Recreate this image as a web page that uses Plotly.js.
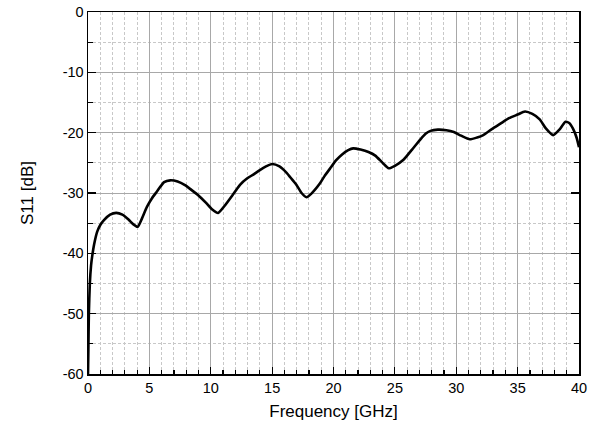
<!DOCTYPE html>
<html>
<head>
<meta charset="utf-8">
<script src="https://cdn.plot.ly/plotly-3.0.1.min.js"></script>
<style>
html,body{margin:0;padding:0;background:#fff;}
#chart{width:592px;height:430px;}
</style>
</head>
<body>
<div id="chart"></div>
<script>
const freqGHz = [0, 0.03, 0.07, 0.15, 0.25, 0.34, 0.5, 0.75, 1.0, 1.3, 1.8, 2.3, 2.8, 3.3, 3.7, 4.05, 4.4, 4.8, 5.2, 5.6, 6.2, 6.7, 7.3, 7.9, 8.5, 9.0, 9.6, 10.1, 10.6, 11.1, 11.9, 12.4, 12.95, 13.5, 14.0, 14.5, 15.0, 15.6, 16.2, 16.6, 17.0, 17.4, 17.8, 18.2, 18.9, 19.3, 19.7, 20.2, 20.7, 21.2, 21.6, 22.2, 22.85, 23.4, 24.0, 24.5, 25.0, 25.7, 26.4, 27.05, 27.5, 27.9, 28.5, 29.2, 29.8, 30.4, 31.1, 31.7, 32.2, 32.9, 33.6, 34.3, 35.0, 35.6, 36.2, 36.8, 37.3, 37.9, 38.4, 38.9, 39.2, 39.5, 39.8, 40.0];
const s11dB = [-60, -56, -50, -45, -42, -40.5, -38.5, -36.4, -35.3, -34.5, -33.6, -33.3, -33.6, -34.4, -35.2, -35.6, -34.2, -32.3, -30.9, -29.8, -28.2, -27.9, -28.1, -28.7, -29.6, -30.4, -31.6, -32.7, -33.3, -32.2, -30.0, -28.6, -27.6, -26.9, -26.2, -25.6, -25.2, -25.6, -26.7, -27.7, -28.7, -30.0, -30.7, -30.1, -28.4, -27.1, -26.0, -24.6, -23.6, -22.9, -22.6, -22.8, -23.2, -23.8, -25.0, -25.9, -25.5, -24.5, -22.8, -21.2, -20.2, -19.7, -19.5, -19.6, -19.9, -20.5, -21.1, -20.8, -20.4, -19.4, -18.5, -17.6, -17.0, -16.5, -16.9, -17.8, -19.3, -20.4, -19.5, -18.2, -18.4, -19.3, -20.8, -22.4];
const xTicks = [0, 5, 10, 15, 20, 25, 30, 35, 40];
const yTicks = [0, -10, -20, -30, -40, -50, -60];

const fam = 'Arial, "Liberation Sans", sans-serif';
const tickFont = {family: fam, size: 14.5, color: '#000'};
const titleFont = {family: fam, size: 17, color: '#000'};

Plotly.newPlot('chart', [{
  x: freqGHz, y: s11dB, type: 'scatter', mode: 'lines',
  line: {color: '#000', width: 2.6, shape: 'spline', smoothing: 0.6},
  hoverinfo: 'skip', showlegend: false
}], {
  width: 592, height: 430,
  margin: {l: 88, r: 13, t: 12, b: 56},
  paper_bgcolor: '#fff', plot_bgcolor: '#fff',
  font: tickFont,
  xaxis: {
    range: [0, 40], tickvals: xTicks, ticktext: xTicks.map(String),
    showgrid: true, gridcolor: '#a8a8a8', gridwidth: 1,
    zeroline: false, showline: true, linecolor: '#000', linewidth: 1.5, mirror: true,
    ticks: 'inside', ticklen: 7, tickwidth: 1.2, tickcolor: '#000',
    minor: {dtick: 1, ticks: 'inside', ticklen: 4, tickwidth: 1.2, tickcolor: '#000', showgrid: true, gridcolor: '#c8c8c8', griddash: '3px,2px', gridwidth: 1},
    tickfont: tickFont,
    title: {text: 'Frequency [GHz]', font: titleFont, standoff: 10}
  },
  yaxis: {
    range: [-60, 0], tickvals: yTicks, ticktext: yTicks.map(String),
    showgrid: true, gridcolor: '#a8a8a8', gridwidth: 1,
    zeroline: false, showline: true, linecolor: '#000', linewidth: 1.5, mirror: 'ticks',
    ticks: 'inside', ticklen: 8, tickwidth: 1.2, tickcolor: '#000',
    minor: {dtick: 5, ticks: 'inside', ticklen: 5, tickwidth: 1.2, tickcolor: '#000', showgrid: true, gridcolor: '#c8c8c8', griddash: '3px,2px', gridwidth: 1},
    tickfont: tickFont,
    title: {text: 'S11 [dB]', font: titleFont, standoff: 24}
  }
}, {staticPlot: true, displayModeBar: false});
</script>
</body>
</html>
